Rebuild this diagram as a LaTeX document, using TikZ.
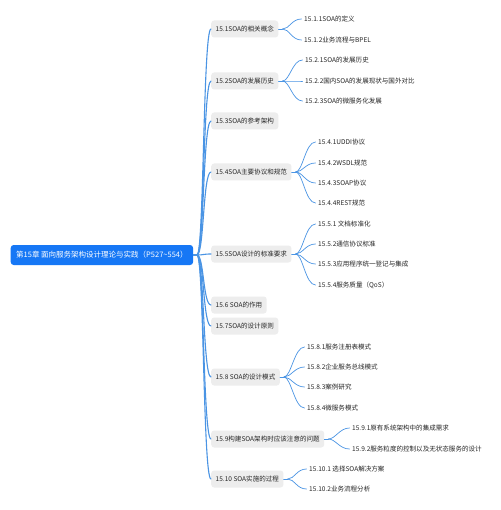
\documentclass[tikz,border=0pt]{standalone}
\usepackage{fontspec}
\usetikzlibrary{calc}
\setmainfont{Noto Sans CJK SC}
\definecolor{rootblue}{HTML}{1677F5}
\definecolor{lineblue}{HTML}{4A94E4}
\definecolor{boxgrey}{HTML}{EDEDED}
\definecolor{txt}{HTML}{262626}
\begin{document}
\begin{tikzpicture}[x=1pt,y=-1pt,
  rootbox/.style={anchor=west,fill=rootblue,text=white,rounded corners=3pt,minimum height=20pt,inner xsep=5.5pt,inner ysep=0pt,font=\fontsize{7.5}{8}\selectfont},
  topic/.style={anchor=west,fill=boxgrey,text=txt,rounded corners=3pt,minimum height=17pt,inner xsep=4.5pt,inner ysep=0pt,font=\fontsize{6.55}{8}\selectfont},
  leaf/.style={anchor=west,text=txt,inner xsep=0.5pt,inner ysep=1pt,font=\fontsize{6.55}{8}\selectfont},
  trunk/.style={draw=lineblue,line width=1.1pt,line cap=round},
  twig/.style={draw=lineblue,line width=0.7pt,line cap=round}]
\useasboundingbox (0,0) rectangle (500,510);
\fill[white] (0,0) rectangle (500,510);

\node[rootbox] (root) at (10.5,255) {第15章 面向服务架构设计理论与实践（P527\textasciitilde554）};

\node[topic] (t1) at (211,29) {15.1SOA的相关概念};
\node[topic] (t2) at (211,81) {15.2SOA的发展历史};
\node[topic] (t3) at (211,121) {15.3SOA的参考架构};
\node[topic] (t4) at (211,172) {15.4SOA主要协议和规范};
\node[topic] (t5) at (211,254) {15.5SOA设计的标准要求};
\node[topic] (t6) at (211,305) {15.6 SOA的作用};
\node[topic] (t7) at (211,326) {15.7SOA的设计原则};
\node[topic] (t8) at (211,377) {15.8 SOA的设计模式};
\node[topic] (t9) at (211,439) {15.9构建SOA架构时应该注意的问题};
\node[topic] (t10) at (211,479) {15.10 SOA实施的过程};

\node[leaf] (l11) at (303.5,19) {15.1.1SOA的定义};
\node[leaf] (l12) at (303.5,40) {15.1.2业务流程与BPEL};
\node[leaf] (l21) at (304.5,60) {15.2.1SOA的发展历史};
\node[leaf] (l22) at (304.5,81) {15.2.2国内SOA的发展现状与国外对比};
\node[leaf] (l23) at (304.5,101) {15.2.3SOA的微服务化发展};
\node[leaf] (l41) at (317.5,142) {15.4.1UDDI协议};
\node[leaf] (l42) at (317.5,163) {15.4.2WSDL规范};
\node[leaf] (l43) at (317.5,183) {15.4.3SOAP协议};
\node[leaf] (l44) at (317.5,203) {15.4.4REST规范};
\node[leaf] (l51) at (317.5,224) {15.5.1 文档标准化};
\node[leaf] (l52) at (317.5,244) {15.5.2通信协议标准};
\node[leaf] (l53) at (317.5,264) {15.5.3应用程序统一登记与集成};
\node[leaf] (l54) at (317.5,285) {15.5.4服务质量（QoS）};
\node[leaf] (l81) at (306.5,347) {15.8.1服务注册表模式};
\node[leaf] (l82) at (306.5,367) {15.8.2企业服务总线模式};
\node[leaf] (l83) at (306.5,387) {15.8.3案例研究};
\node[leaf] (l84) at (306.5,408) {15.8.4微服务模式};
\node[leaf] (l91) at (351.5,428) {15.9.1原有系统架构中的集成需求};
\node[leaf] (l92) at (351.5,449) {15.9.2服务粒度的控制以及无状态服务的设计};
\node[leaf] (l101) at (308.5,469) {15.10.1 选择SOA解决方案};
\node[leaf] (l102) at (308.5,489) {15.10.2业务流程分析};

% root branches
\coordinate (rj) at (197,255);
\draw[trunk] (root.east) -- (rj);
\foreach \t in {t1,t2,t3,t4,t5,t6,t7,t8,t9,t10}{
  \draw[trunk] (rj) .. controls (204,255) and ($(\t.west)+(-8,0)$) .. (\t.west);
}

% child branches
\foreach \t/\ls in {t1/{l11,l12},t2/{l21,l22,l23},t4/{l41,l42,l43,l44},t5/{l51,l52,l53,l54},t8/{l81,l82,l83,l84},t9/{l91,l92},t10/{l101,l102}}{
  \coordinate (j) at ($(\t.east)+(4,0)$);
  \draw[twig] (\t.east) -- (j);
  \foreach \l in \ls {
    \draw[twig] (j) .. controls ($(j)+(7,0)$) and ($(\l.west)+(-12,0)$) .. ($(\l.west)+(-2,0)$);
  }
}
\end{tikzpicture}
\end{document}
